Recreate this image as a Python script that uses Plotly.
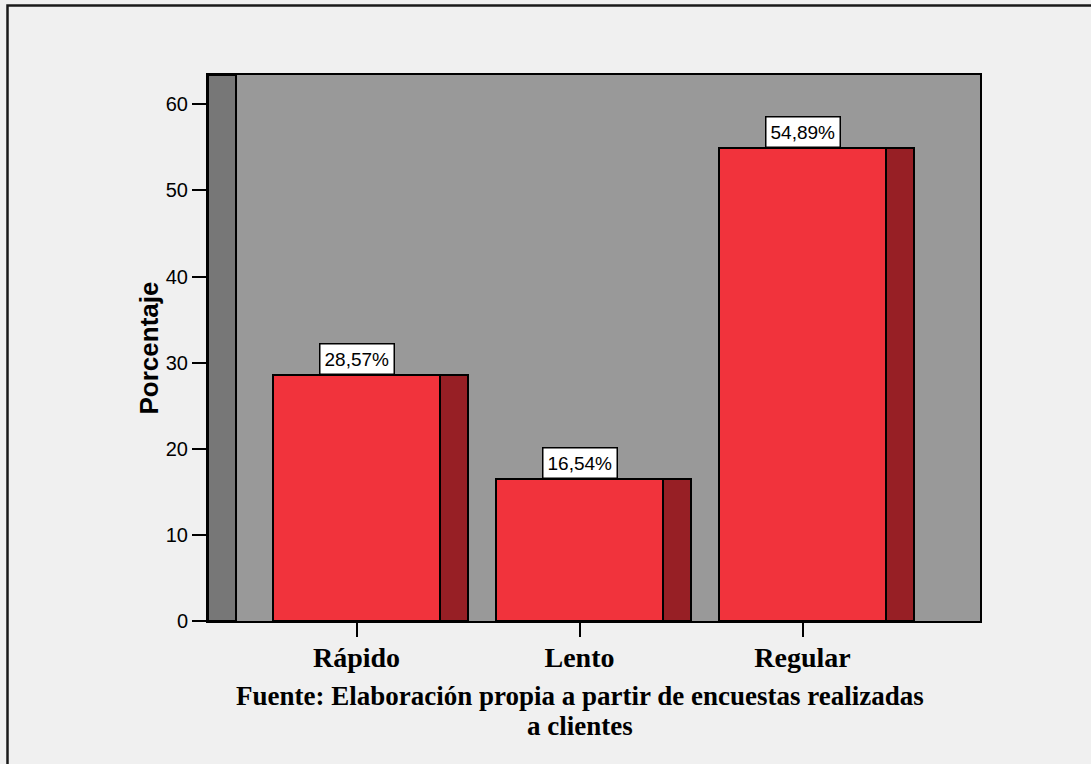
import plotly.graph_objects as go

# Survey results: perceived speed of service
categories = ["Rápido", "Lento", "Regular"]
percentages = [28.57, 16.54, 54.89]
y_ticks = [0, 10, 20, 30, 40, 50, 60]

W, H = 1091, 764
ML, MR, MT, MB = 208, 111, 75, 143
PW, PH = W - ML - MR, H - MT - MB

FRONT_W = 0.749   # width of the bar face, in category units
SIDE_W = 0.1256   # depth of the shaded side
X_RANGE = [-0.666, 2.796]
Y_MAX = 63.4

RED = "#f1333c"
DARK_RED = "#971f25"
PLOT_BG = "#999999"
WALL = "#777777"
PAGE_BG = "#f0f0f0"


def px_x(p):
    return (p - ML) / PW


def px_y(p):
    return (H - MB - p) / PH


fig = go.Figure()

# Front faces
fig.add_trace(go.Bar(
    x=categories, y=percentages,
    width=FRONT_W, offset=-FRONT_W / 2,
    marker=dict(color=RED, line=dict(color="black", width=2)),
    hoverinfo="x+y", showlegend=False,
))
# Shaded side faces
fig.add_trace(go.Bar(
    x=categories, y=percentages,
    width=SIDE_W, offset=FRONT_W / 2,
    marker=dict(color=DARK_RED, line=dict(color="black", width=2)),
    hoverinfo="skip", showlegend=False,
))

# Value labels in white boxes sitting on top of each bar
for cat, val in zip(categories, percentages):
    fig.add_annotation(
        x=cat, y=val, xref="x", yref="y",
        text=f"{val:.2f}".replace(".", ",") + "%",
        showarrow=False, yanchor="bottom", xanchor="center",
        font=dict(family="Liberation Sans, Arial", size=19, color="black"),
        bgcolor="white", bordercolor="black", borderwidth=1.5, borderpad=4,
    )

# Left side wall of the 3D frame
fig.add_shape(
    type="rect", xref="x", yref="y",
    x0=X_RANGE[0], x1=X_RANGE[0] + SIDE_W, y0=0, y1=Y_MAX,
    fillcolor=WALL, line=dict(color="black", width=2), layer="below",
)

# Outer frame (top and left edges)
fig.add_shape(
    type="path", xref="paper", yref="paper",
    path=f"M {px_x(7.5)},{px_y(H + 2)} L {px_x(7.5)},{px_y(5.5)} L {px_x(W + 2)},{px_y(5.5)}",
    line=dict(color="#1a1a1a", width=2.5),
)

# Two-line caption under the axis
caption_font = dict(family="Liberation Serif, Times New Roman", size=27, color="black")
fig.add_annotation(
    x=px_x(580), y=px_y(696), xref="paper", yref="paper",
    text="<b>Fuente: Elaboración propia a partir de encuestas realizadas</b>",
    showarrow=False, xanchor="center", yanchor="middle", font=caption_font,
)
fig.add_annotation(
    x=px_x(580), y=px_y(726), xref="paper", yref="paper",
    text="<b>a clientes</b>",
    showarrow=False, xanchor="center", yanchor="middle", font=caption_font,
)

fig.update_layout(
    width=W, height=H,
    margin=dict(l=ML, r=MR, t=MT, b=MB, pad=0),
    paper_bgcolor=PAGE_BG, plot_bgcolor=PLOT_BG,
    barmode="overlay", bargap=0,
    xaxis=dict(
        type="category", categoryorder="array", categoryarray=categories,
        range=X_RANGE, showgrid=False, zeroline=False,
        showline=True, linecolor="black", linewidth=2, mirror=True,
        ticks="outside", ticklen=14, tickwidth=2, tickcolor="black",
        tickfont=dict(family="Liberation Serif, Times New Roman", size=28, color="black"),
        tickprefix="<b>", ticksuffix="</b>", ticklabelstandoff=-4,
    ),
    yaxis=dict(
        range=[0, Y_MAX], tickvals=y_ticks, showgrid=False, zeroline=False,
        showline=True, linecolor="black", linewidth=2, mirror=True,
        ticks="outside", ticklen=14, tickwidth=2, tickcolor="black",
        tickfont=dict(family="Liberation Sans, Arial", size=20, color="black"),
        title=dict(text="<b>Porcentaje</b>", standoff=0,
                   font=dict(family="Liberation Sans, Arial", size=26, color="black")),
    ),
)

fig.write_html("out.html")
